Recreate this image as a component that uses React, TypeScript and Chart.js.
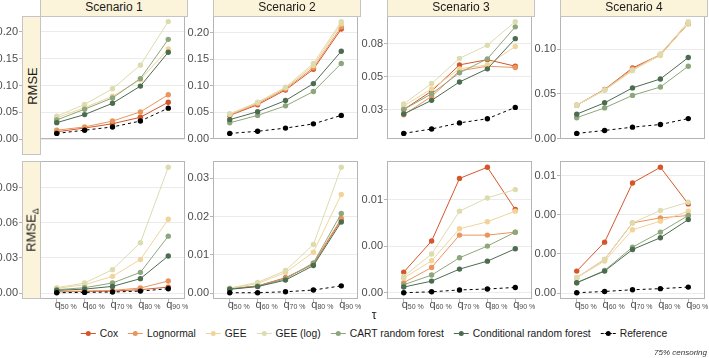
import React, { useEffect, useRef } from "react";
import { Chart, registerables } from "chart.js";

Chart.register(...registerables);

const FONT = '"Liberation Sans", Arial, Helvetica, sans-serif';
Chart.defaults.font.family = FONT;

// ---------- data ----------
const quantiles = ["50 %", "60 %", "70 %", "80 %", "90 %"];
const scenarios = ["Scenario 1", "Scenario 2", "Scenario 3", "Scenario 4"];
const rowLabels = ["RMSE", "RMSE_delta"];
const methods = [
  "Cox",
  "Lognormal",
  "GEE",
  "GEE (log)",
  "CART random forest",
  "Conditional random forest",
  "Reference",
];
const methodColors = ["#D5562B", "#E9955C", "#F2D39A", "#DCDCAF", "#8DA67B", "#4C6C50", "#000000"];

// rows in each array follow `methods` order
const rmseScenario1 = [
  [0.014, 0.021, 0.029, 0.041, 0.069],
  [0.017, 0.023, 0.034, 0.051, 0.083],
  [0.04, 0.059, 0.08, 0.111, 0.168],
  [0.043, 0.065, 0.094, 0.138, 0.219],
  [0.036, 0.056, 0.077, 0.113, 0.186],
  [0.031, 0.046, 0.067, 0.099, 0.162],
  [0.011, 0.017, 0.023, 0.034, 0.058],
];
const rmseScenario2 = [
  [0.044, 0.064, 0.092, 0.131, 0.207],
  [0.045, 0.066, 0.094, 0.134, 0.211],
  [0.046, 0.068, 0.096, 0.138, 0.217],
  [0.047, 0.069, 0.097, 0.142, 0.221],
  [0.03, 0.044, 0.062, 0.089, 0.142],
  [0.036, 0.051, 0.072, 0.104, 0.165],
  [0.01, 0.014, 0.02, 0.028, 0.044],
];
const rmseScenario3 = [
  [0.025, 0.039, 0.059, 0.063, 0.058],
  [0.021, 0.035, 0.0545, 0.058, 0.057],
  [0.0277, 0.0407, 0.056, 0.059, 0.073],
  [0.0293, 0.0448, 0.064, 0.074, 0.092],
  [0.025, 0.037, 0.053, 0.0636, 0.088],
  [0.0216, 0.032, 0.046, 0.056, 0.079],
  [0.0068, 0.0102, 0.0148, 0.018, 0.0266],
];
const rmseScenario4 = [
  [0.0373, 0.055, 0.079, 0.094, 0.1287],
  [0.0373, 0.0547, 0.078, 0.094, 0.129],
  [0.0373, 0.0543, 0.0767, 0.093, 0.129],
  [0.0375, 0.054, 0.076, 0.095, 0.131],
  [0.0233, 0.0343, 0.0483, 0.0577, 0.081],
  [0.0273, 0.04, 0.0567, 0.0667, 0.0907],
  [0.0057, 0.009, 0.0127, 0.0157, 0.0223],
];
const deltaScenario1 = [
  [0.0011, 0.0014, 0.0017, 0.0029, 0.0051],
  [0.0014, 0.0017, 0.0023, 0.0043, 0.0103],
  [0.004, 0.0071, 0.0143, 0.0286, 0.063],
  [0.0046, 0.0086, 0.02, 0.043, 0.1074],
  [0.0029, 0.0046, 0.0086, 0.0177, 0.0486],
  [0.0023, 0.0034, 0.0057, 0.0123, 0.0317],
  [0.0003, 0.0006, 0.0009, 0.0017, 0.0037],
];
const deltaScenario2 = [
  [0.0011, 0.0019, 0.004, 0.0076, 0.0192],
  [0.0011, 0.0018, 0.0039, 0.0077, 0.0195],
  [0.0012, 0.0025, 0.0054, 0.0107, 0.0258],
  [0.0013, 0.0028, 0.0059, 0.0127, 0.0329],
  [0.0011, 0.0018, 0.0037, 0.0079, 0.0208],
  [0.001, 0.0017, 0.0034, 0.0072, 0.0186],
  [0.0001, 0.0001, 0.00035, 0.0008, 0.0019],
];
const deltaScenario3 = [
  [0.00222, 0.00556, 0.0123, 0.0135, 0.00896],
  [0.00108, 0.00272, 0.0062, 0.0062, 0.00652],
  [0.00158, 0.00344, 0.00688, 0.00763, 0.00878],
  [0.00176, 0.00416, 0.00878, 0.0102, 0.0111],
  [0.00086, 0.0019, 0.00376, 0.00502, 0.00652],
  [0.00061, 0.00125, 0.00254, 0.0034, 0.00473],
  [0.0, 0.0001, 0.0003, 0.0004, 0.00057],
];
const deltaScenario4 = [
  [0.0014, 0.00325, 0.00703, 0.00803, 0.00569],
  [0.00098, 0.00215, 0.00448, 0.0048, 0.00495],
  [0.00098, 0.00204, 0.00404, 0.00459, 0.00523],
  [0.00098, 0.00215, 0.00448, 0.00527, 0.0058],
  [0.00066, 0.00144, 0.00293, 0.00389, 0.00495],
  [0.00066, 0.0014, 0.00278, 0.00353, 0.00469],
  [0.00002, 0.0001, 0.00021, 0.00028, 0.00038],
];

const ticksRmse12 = [0, 0.05, 0.1, 0.15, 0.2];
const labelsRmse12 = ["0.00", "0.05", "0.10", "0.15", "0.20"];
const ticksRmse3 = [0.025, 0.05, 0.075];
const labelsRmse3 = ["0.03", "0.05", "0.08"];
const ticksRmse4 = [0, 0.05, 0.1];
const labelsRmse4 = ["0.00", "0.05", "0.10"];
const ticksDelta1 = [0, 0.03, 0.06, 0.09];
const labelsDelta1 = ["0.00", "0.03", "0.06", "0.09"];
const ticksDelta2 = [0, 0.01, 0.02, 0.03];
const labelsDelta2 = ["0.00", "0.01", "0.02", "0.03"];
const ticksDelta3 = [0, 0.005, 0.01];
const labelsDelta3 = ["0.00", "0.00", "0.01"];
const ticksDelta4 = [0, 0.0025, 0.005, 0.0075];
const labelsDelta4 = ["0.00", "0.00", "0.00", "0.01"];

// ---------- layout ----------
const CREAM = "#FCF4DA";
const STRIP_BORDER = "#C4C4C4";
const PANEL_BORDER = "#B5B5B5";
const PANEL_W = 148;
const colLeft = [40, 213, 387, 560];
const rowTop = [16, 161];
const rowH = [139, 138];
const PAD_TOP = 10;
const X_AXIS_H = 16;

type PanelDef = {
  row: number;
  col: number;
  series: number[][];
  ticks: number[];
  labels: string[];
};

const panels: PanelDef[] = [
  { row: 0, col: 0, series: rmseScenario1, ticks: ticksRmse12, labels: labelsRmse12 },
  { row: 0, col: 1, series: rmseScenario2, ticks: ticksRmse12, labels: labelsRmse12 },
  { row: 0, col: 2, series: rmseScenario3, ticks: ticksRmse3, labels: labelsRmse3 },
  { row: 0, col: 3, series: rmseScenario4, ticks: ticksRmse4, labels: labelsRmse4 },
  { row: 1, col: 0, series: deltaScenario1, ticks: ticksDelta1, labels: labelsDelta1 },
  { row: 1, col: 1, series: deltaScenario2, ticks: ticksDelta2, labels: labelsDelta2 },
  { row: 1, col: 2, series: deltaScenario3, ticks: ticksDelta3, labels: labelsDelta3 },
  { row: 1, col: 3, series: deltaScenario4, ticks: ticksDelta4, labels: labelsDelta4 },
];

const decoPlugin = {
  id: "deco",
  afterDatasetsDraw(chart: any, _args: any, opts: any) {
    const { ctx, chartArea: a } = chart;
    ctx.save();
    ctx.strokeStyle = PANEL_BORDER;
    ctx.lineWidth = 1;
    ctx.strokeRect(
      Math.round(a.left) + 0.5,
      Math.round(a.top) + 0.5,
      Math.round(a.right - a.left) - 1,
      Math.round(a.bottom - a.top) - 1
    );
    if (opts && opts.xLabels) {
      const xs = chart.scales.x;
      quantiles.forEach((q, i) => {
        const px = xs.getPixelForValue(i);
        ctx.fillStyle = "#4D4D4D";
        ctx.textBaseline = "alphabetic";
        ctx.font = `11px ${FONT}`;
        const w = ctx.measureText("q").width;
        ctx.textAlign = "center";
        ctx.fillText("q", px + 1, a.bottom + 9);
        ctx.font = `7px ${FONT}`;
        ctx.textAlign = "left";
        ctx.fillText(q, px + 1 + w / 2, a.bottom + 10);
      });
    }
    ctx.restore();
  },
};

function PanelChart({ p }: { p: PanelDef }) {
  const ref = useRef<HTMLCanvasElement>(null);
  const yW = p.col === 0 ? 40 : 26;
  const left = colLeft[p.col] - yW;
  const top = rowTop[p.row] - PAD_TOP;
  const width = yW + PANEL_W + 1;
  const height = PAD_TOP + rowH[p.row] + (p.row === 0 ? 10 : X_AXIS_H);

  useEffect(() => {
    const all = p.series.flat();
    const lo = Math.min(...all);
    const hi = Math.max(...all);
    const ex = (hi - lo) * 0.05;
    const chart = new Chart(ref.current as HTMLCanvasElement, {
      type: "line",
      data: {
        datasets: methods.map((m, i) => ({
          label: m,
          data: p.series[i].map((v, j) => ({ x: j, y: v })),
          borderColor: methodColors[i],
          backgroundColor: methodColors[i],
          pointBackgroundColor: methodColors[i],
          pointBorderColor: methodColors[i],
          pointBorderWidth: 0,
          pointRadius: 2.7,
          borderWidth: 1,
          borderDash: i === 6 ? [3, 3] : [],
          tension: 0,
          fill: false,
          order: 6 - i,
        })),
      },
      options: {
        animation: false,
        responsive: false,
        maintainAspectRatio: false,
        events: [],
        layout: {
          padding: { top: PAD_TOP, bottom: p.row === 0 ? 10 : 0, left: 0, right: 1 },
        },
        plugins: {
          legend: { display: false },
          tooltip: { enabled: false },
          deco: { xLabels: p.row === 1 },
        } as any,
        scales: {
          x: {
            type: "linear",
            min: -0.6,
            max: 4.6,
            display: p.row === 1,
            afterBuildTicks: (s: any) => {
              s.ticks = quantiles.map((_, i) => ({ value: i }));
            },
            afterFit: (s: any) => {
              s.height = X_AXIS_H;
            },
            ticks: { display: false },
            grid: {
              display: true,
              drawOnChartArea: false,
              drawTicks: true,
              tickLength: 3,
              tickColor: PANEL_BORDER,
            },
            border: { display: false },
          },
          y: {
            type: "linear",
            min: lo - ex,
            max: hi + ex,
            afterBuildTicks: (s: any) => {
              s.ticks = p.ticks.map((v) => ({ value: v }));
            },
            afterFit: (s: any) => {
              s.width = yW;
            },
            ticks: {
              callback: (v: any) => p.labels[p.ticks.indexOf(v)],
              color: "#4D4D4D",
              font: { size: 11, family: FONT },
              padding: 1,
            },
            grid: {
              color: "#EBEBEB",
              lineWidth: 1,
              drawTicks: true,
              tickLength: p.col === 0 ? 21 : 3,
              tickColor: PANEL_BORDER,
            },
            border: { display: false },
          },
        },
      },
      plugins: [decoPlugin as any],
    } as any);
    return () => chart.destroy();
  }, []);

  return (
    <canvas
      ref={ref}
      width={width}
      height={height}
      style={{ position: "absolute", left, top, width, height, display: "block" }}
    />
  );
}

function LegendKey({ color, dashed }: { color: string; dashed: boolean }) {
  return (
    <div style={{ position: "relative", width: 15, height: 13 }}>
      <div
        style={{
          position: "absolute",
          left: 0,
          right: 0,
          top: 6,
          borderTop: `1px ${dashed ? "dashed" : "solid"} ${color}`,
        }}
      />
      <div
        style={{
          position: "absolute",
          left: 5,
          top: 4,
          width: 5,
          height: 5,
          borderRadius: "50%",
          background: color,
        }}
      />
    </div>
  );
}

export default function App() {
  return (
    <div
      style={{
        position: "fixed",
        left: 0,
        top: 0,
        width: 709,
        height: 358,
        background: "#fff",
        overflow: "hidden",
        fontFamily: FONT,
      }}
    >
      {panels.map((p) => (
        <PanelChart key={`${p.row}-${p.col}`} p={p} />
      ))}

      {scenarios.map((s, c) => (
        <div
          key={s}
          style={{
            position: "absolute",
            left: colLeft[c],
            top: 0,
            width: PANEL_W,
            height: 17,
            boxSizing: "border-box",
            background: CREAM,
            border: `1px solid ${STRIP_BORDER}`,
            borderTop: "none",
            font: `12px ${FONT}`,
            color: "#1A1A1A",
            textAlign: "center",
            lineHeight: "15px",
          }}
        >
          {s}
        </div>
      ))}

      {rowLabels.map((r, i) => (
        <div
          key={r}
          style={{
            position: "absolute",
            left: 22,
            top: rowTop[i],
            width: 19,
            height: rowH[i],
            boxSizing: "border-box",
            background: CREAM,
            border: `1px solid ${STRIP_BORDER}`,
          }}
        >
          <div
            style={{
              position: "absolute",
              left: "50%",
              top: "50%",
              transform: "translate(-50%, -50%) rotate(-90deg)",
              whiteSpace: "nowrap",
              font: `13px ${FONT}`,
              color: "#1A1A1A",
              lineHeight: "15px",
            }}
          >
            RMSE
            {i === 1 ? (
              <span style={{ fontSize: 9, position: "relative", top: 3 }}>Δ</span>
            ) : null}
          </div>
        </div>
      ))}

      <div
        style={{
          position: "absolute",
          left: 374,
          top: 308,
          transform: "translateX(-50%)",
          font: `12px ${FONT}`,
          lineHeight: "14px",
          color: "#1A1A1A",
        }}
      >
        τ
      </div>

      <div
        style={{
          position: "absolute",
          left: 374,
          top: 327,
          transform: "translateX(-50%)",
          display: "flex",
          alignItems: "center",
          whiteSpace: "nowrap",
          font: `10.3px ${FONT}`,
          color: "#1A1A1A",
        }}
      >
        {methods.map((m, i) => (
          <div
            key={m}
            style={{ display: "flex", alignItems: "center", marginRight: i < 6 ? 10 : 0 }}
          >
            <LegendKey color={methodColors[i]} dashed={i === 6} />
            <span style={{ marginLeft: 4, lineHeight: "13px" }}>{m}</span>
          </div>
        ))}
      </div>

      <div
        style={{
          position: "absolute",
          right: 2,
          top: 348,
          font: `italic 8px ${FONT}`,
          lineHeight: "10px",
          color: "#333",
        }}
      >
        75% censoring
      </div>
    </div>
  );
}
